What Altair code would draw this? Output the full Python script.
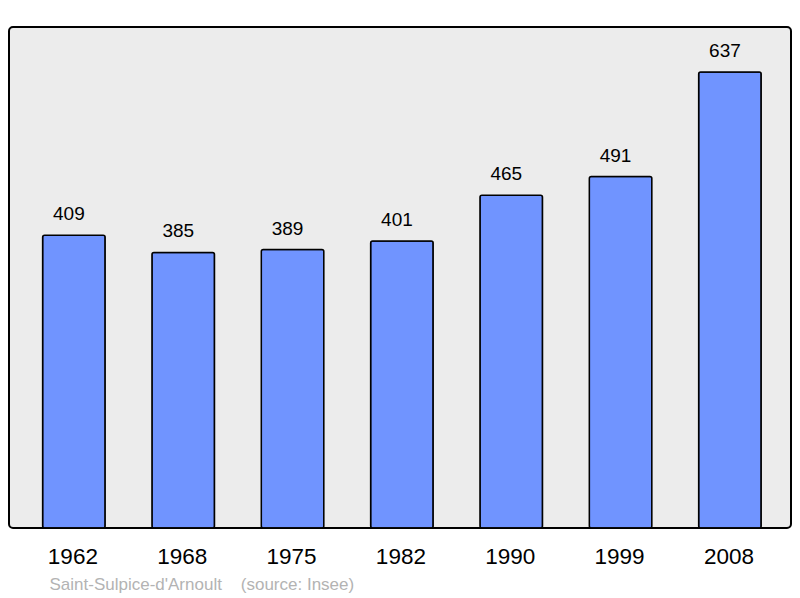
import altair as alt
import pandas as pd

years = ["1962", "1968", "1975", "1982", "1990", "1999", "2008"]
population = [409, 385, 389, 401, 465, 491, 637]
footer = "Saint-Sulpice-d'Arnoult\u00a0\u00a0\u00a0\u00a0(source: Insee)"

df = pd.DataFrame({"year": years, "pop": population})

x = alt.X(
    "year:N",
    sort=years,
    scale=alt.Scale(paddingInner=0.428, paddingOuter=0.29, align=0.53),
    axis=alt.Axis(
        title=footer,
        labelAngle=0,
        labelFontSize=22.5,
        labelColor="black",
        labelFont="Liberation Sans",
        labelPadding=17,
        labelOffset=-1,
        ticks=False,
        domain=False,
        titleFont="Liberation Sans",
        titleFontSize=17,
        titleFontWeight="normal",
        titleColor="#b3b3b3",
        titleAnchor="start",
        titleAlign="left",
        titleBaseline="alphabetic",
        titleX=40,
        titleY=61,
    ),
)
y = alt.Y("pop:Q", scale=alt.Scale(domain=[0, 700], nice=False), axis=None)

bars = alt.Chart(df).mark_bar(
    color="#7094ff", stroke="black", strokeWidth=1.5, cornerRadius=2
).encode(x=x, y=y)

labels = alt.Chart(df).mark_text(
    baseline="alphabetic", dy=-15, dx=-5, fontSize=19, font="Liberation Sans", color="black"
).encode(x=x, y=y, text="pop:Q")

chart = (
    (bars + labels)
    .properties(
        width=782,
        height=501,
        autosize=alt.AutoSizeParams(type="none"),
        padding={"left": 1, "top": 19, "right": 1, "bottom": 68},
        background="white",
    )
    .configure_view(fill="#ececec", stroke="black", strokeWidth=2, cornerRadius=4)
)

chart.save("out.html", embed_options={"renderer": "svg", "actions": False})
